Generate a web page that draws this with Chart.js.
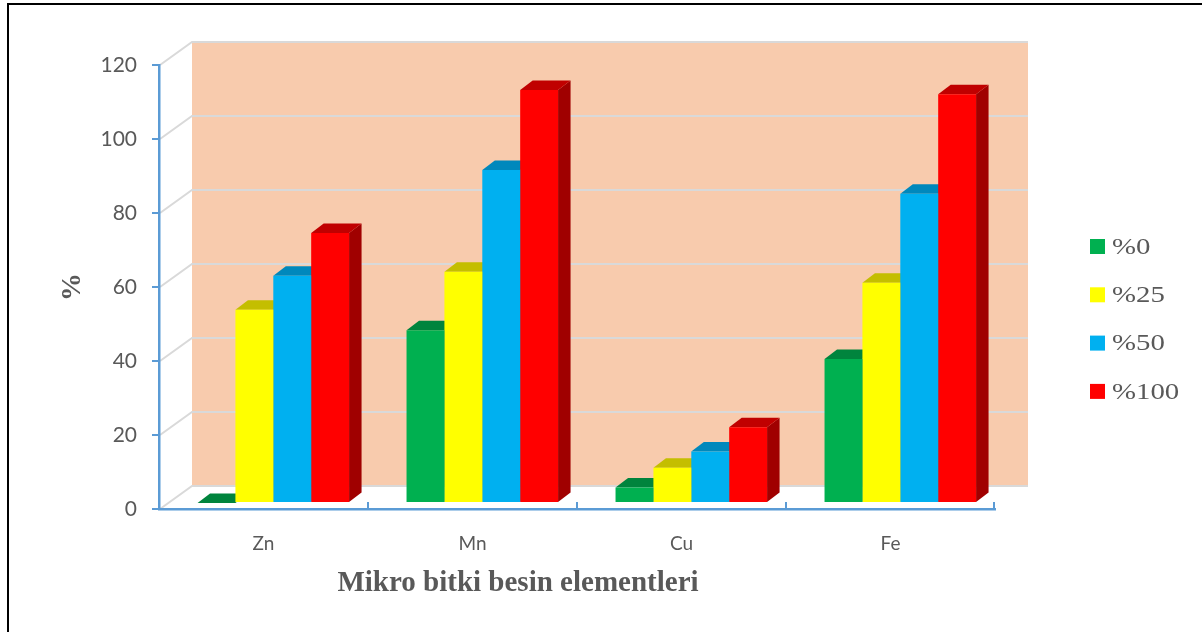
<!DOCTYPE html>
<html>
<head>
<meta charset="utf-8">
<script src="https://cdn.jsdelivr.net/npm/chart.js@4/dist/chart.umd.min.js"></script>
<style>
  html, body { margin: 0; padding: 0; background: #fff; overflow: hidden; }
  #wrap { position: relative; width: 1202px; height: 632px; }
  #frame { position: absolute; left: 7px; top: 3px; right: -10px; bottom: -10px;
           border-top: 2px solid #000; border-left: 2px solid #000; pointer-events: none; }
</style>
</head>
<body>
<div id="wrap">
  <canvas id="chart" width="1202" height="632"></canvas>
  <div id="frame"></div>
</div>
<script>
// Micronutrient elements and treatment levels
const categories = ['Zn', 'Mn', 'Cu', 'Fe'];
const seriesNames = ['%0', '%25', '%50', '%100'];

// Values (%) per treatment level
const level0   = [0,    46.7, 4.2,  38.9];
const level25  = [52.2, 62.5, 9.5,  59.5];
const level50  = [61.4, 90.0, 13.9, 83.6];
const level100 = [73.0, 111.6, 20.5, 110.5];

// Value axis range
const yMin = 0;
const yMax = 120;
const yStep = 20;

const axisTitleX = 'Mikro bitki besin elementleri';
const axisTitleY = '%';

// Face colours: front, top, side
const frontColors = ['#00B050', '#FFFF00', '#00B0F0', '#FF0000'];
const topColors   = ['#00843D', '#C4BE00', '#0088BC', '#C00000'];
const sideColors  = ['#006A30', '#A09A00', '#006E98', '#A00000'];

const TEXT = '#595959';
const AXIS = '#5B9BD5';
const GRID = '#D9D9D9';
const WALL = '#F8CBAD';

// 3D projection offsets
const WALL_DX = 33, WALL_DY = -23;      // back wall relative to front axis plane
const BAR_DX = 9.8, BAR_DY = -6;        // bar front faces relative to front axis plane
const DEPTH_DX = 12.5, DEPTH_DY = -9.5; // bar depth

const seriesValues = [level0, level25, level50, level100];

const threeD = {
  id: 'threeD',
  beforeDraw(chart) {
    const ctx = chart.ctx;
    const { left, right, top, bottom } = chart.chartArea;
    const y = chart.scales.y;
    ctx.save();
    // back wall
    ctx.fillStyle = WALL;
    ctx.fillRect(left + WALL_DX, top + WALL_DY, right - left, bottom - top);
    // gridlines on side wall and back wall
    ctx.strokeStyle = GRID;
    ctx.lineWidth = 2;
    y.ticks.forEach(t => {
      const py = y.getPixelForValue(t.value);
      ctx.beginPath();
      ctx.moveTo(left + 1, py);
      ctx.lineTo(left + WALL_DX, py + WALL_DY);
      ctx.lineTo(right + WALL_DX, py + WALL_DY);
      ctx.stroke();
    });
    ctx.restore();
  },
  beforeDatasetsDraw(chart) {
    const ctx = chart.ctx;
    ctx.save();
    ctx.translate(BAR_DX, BAR_DY);
    chart.data.datasets.forEach((ds, di) => {
      const meta = chart.getDatasetMeta(di);
      meta.data.forEach(bar => {
        const p = bar.getProps(['x', 'y', 'base', 'width'], true);
        const l = p.x - p.width / 2, r = p.x + p.width / 2;
        const t = Math.min(p.y, p.base), b = Math.max(p.y, p.base);
        // side face
        ctx.fillStyle = sideColors[di];
        ctx.beginPath();
        ctx.moveTo(r, t);
        ctx.lineTo(r + DEPTH_DX, t + DEPTH_DY);
        ctx.lineTo(r + DEPTH_DX, b + DEPTH_DY);
        ctx.lineTo(r, b);
        ctx.closePath();
        ctx.fill();
        // top face
        ctx.fillStyle = topColors[di];
        ctx.beginPath();
        ctx.moveTo(l, t);
        ctx.lineTo(l + DEPTH_DX, t + DEPTH_DY);
        ctx.lineTo(r + DEPTH_DX, t + DEPTH_DY);
        ctx.lineTo(r, t);
        ctx.closePath();
        ctx.fill();
      });
    });
    // translation stays active while the front faces are drawn
  },
  afterDatasetsDraw(chart) {
    chart.ctx.restore();
  },
  afterDraw(chart) {
    const ctx = chart.ctx;
    const { bottom } = chart.chartArea;
    const x = chart.scales.x;
    ctx.save();
    // inward category ticks on the front floor edge
    ctx.strokeStyle = AXIS;
    ctx.lineWidth = 2;
    for (let i = 0; i <= categories.length; i++) {
      const px = Math.round(x.getPixelForValue(i - 0.5)) - (i === categories.length ? 1 : 0);
      ctx.beginPath();
      ctx.moveTo(px, bottom);
      ctx.lineTo(px, bottom - 7);
      ctx.stroke();
    }
    // category axis title
    ctx.fillStyle = TEXT;
    ctx.font = 'bold 29px "Liberation Serif"';
    ctx.textAlign = 'center';
    ctx.textBaseline = 'middle';
    ctx.fillText(axisTitleX, 518, 584);
    // legend
    const legendY0 = 246.5, legendStep = 48.3;
    chart.data.datasets.forEach((ds, i) => {
      const cy = legendY0 + i * legendStep;
      ctx.fillStyle = ds.backgroundColor;
      ctx.fillRect(1090, cy - 7.5, 15, 15);
      ctx.save();
      ctx.translate(1112, cy + 1);
      ctx.scale(1.2, 1);
      ctx.fillStyle = TEXT;
      ctx.font = '24px "Liberation Serif"';
      ctx.textAlign = 'left';
      ctx.textBaseline = 'middle';
      ctx.fillText(ds.label, 0, 0);
      ctx.restore();
    });
    ctx.restore();
  }
};

new Chart(document.getElementById('chart'), {
  type: 'bar',
  data: {
    labels: categories,
    datasets: seriesValues.map((vals, i) => ({
      label: seriesNames[i],
      data: vals,
      backgroundColor: frontColors[i],
      borderWidth: 0,
      categoryPercentage: 0.725,
      barPercentage: 1.0
    }))
  },
  options: {
    responsive: false,
    animation: false,
    layout: { padding: { top: 65, right: 207, bottom: 0, left: 0 } },
    plugins: {
      legend: { display: false },
      tooltip: { enabled: false },
      title: { display: false }
    },
    scales: {
      x: {
        type: 'category',
        offset: true,
        grid: { drawOnChartArea: false, drawTicks: false },
        border: { color: AXIS, width: 2.5 },
        ticks: { color: TEXT, font: { family: 'Lato', size: 19 }, padding: 23 },
        afterFit(scale) { scale.height = 123; }
      },
      y: {
        min: yMin,
        max: yMax,
        ticks: { stepSize: yStep, color: TEXT, font: { family: 'Lato', size: 21 }, padding: 15 },
        grid: { drawOnChartArea: false, drawTicks: true, tickLength: 7, color: AXIS, lineWidth: 2 },
        border: { color: AXIS, width: 2.5 },
        title: {
          display: true,
          text: axisTitleY,
          color: TEXT,
          font: { family: 'Liberation Serif', size: 28, weight: 'bold' },
          padding: { top: 56, bottom: 0 }
        },
        afterFit(scale) { scale.width = 159; }
      }
    }
  },
  plugins: [threeD]
});
</script>
</body>
</html>
